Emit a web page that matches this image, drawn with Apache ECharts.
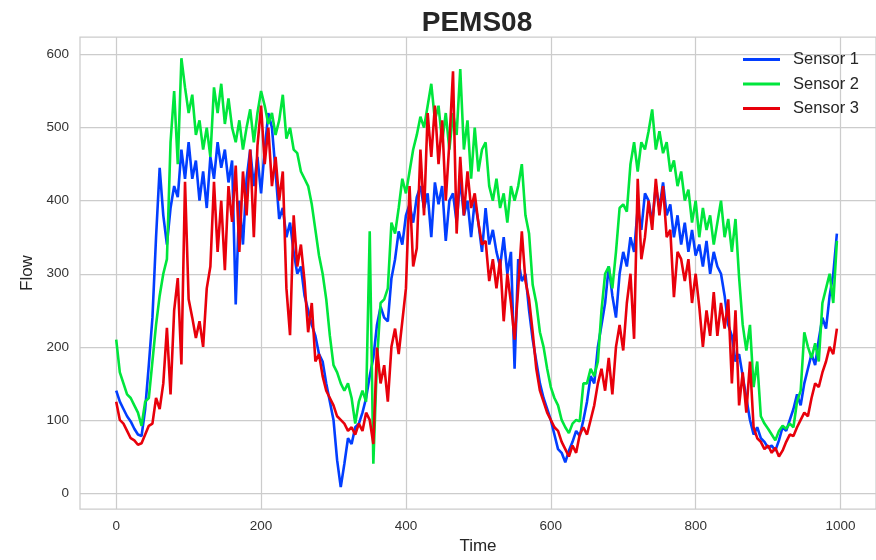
<!DOCTYPE html>
<html>
<head>
    <meta charset="utf-8">
    <title>PEMS08</title>
    <script src="https://cdn.jsdelivr.net/npm/echarts@6/dist/echarts.min.js"></script>
</head>
<body style="margin:0;background:#fff;">
<div id="main" style="width: 876px;height:560px;"></div>
<script type="text/javascript">
    // one reading every 5 time steps
    var timeStep = 5;
    var seriesNames = ['Sensor 1', 'Sensor 2', 'Sensor 3'];
    var xTicks = [0, 200, 400, 600, 800, 1000];
    var yTicks = [0, 100, 200, 300, 400, 500, 600];

    var sensor1 = [
        140,125,115,105,98,88,80,78,115,175,
        240,350,445,380,340,390,420,405,470,430,
        480,430,455,400,440,390,460,430,480,445,
        470,425,455,258,400,340,430,470,420,460,
        410,470,520,500,440,375,390,350,370,330,
        300,310,270,250,230,215,190,180,150,125,
        100,45,8,40,75,67,90,95,110,130,
        160,185,230,255,240,235,294,320,358,340,
        380,395,370,405,420,390,410,350,425,395,
        420,345,400,410,370,430,380,400,350,400,
        370,330,390,340,360,330,310,350,300,330,
        170,320,290,300,250,210,180,150,130,115,
        100,80,60,55,42,58,70,85,78,100,
        125,160,150,200,230,260,310,270,240,300,
        330,310,350,330,390,360,410,400,370,420,
        390,425,380,395,350,380,340,370,330,360,
        325,340,310,345,300,330,310,300,270,230,
        215,180,190,160,130,100,80,90,75,70,
        62,65,58,72,90,85,100,115,135,120,
        150,170,190,175,210,240,225,270,300,355
    ];
    var sensor2 = [
        210,165,150,135,130,120,110,92,125,130,
        180,230,270,300,320,480,550,450,595,555,
        520,545,490,510,470,500,460,555,520,560,
        505,540,500,480,510,470,500,525,480,520,
        550,530,505,520,490,510,545,485,500,470,
        465,440,430,420,395,360,325,300,265,215,
        175,165,150,140,150,130,95,125,140,125,
        358,40,180,260,265,280,370,355,390,430,
        410,440,470,490,515,500,530,560,510,530,
        480,520,470,520,490,580,470,510,430,500,
        440,470,480,420,400,430,390,410,370,420,
        400,420,450,380,355,285,260,220,200,170,
        145,130,120,100,90,82,95,100,98,150,
        150,170,160,180,250,300,310,280,330,390,
        395,385,450,480,440,480,470,495,525,470,
        495,465,480,440,455,420,440,400,415,370,
        400,350,390,360,380,340,370,400,350,375,
        330,375,295,230,195,230,145,180,105,95,
        88,80,72,85,92,88,95,90,125,140,
        220,200,185,205,180,260,280,300,260,345
    ];
    var sensor3 = [
        125,100,95,85,75,72,66,68,80,92,
        95,130,115,150,226,135,250,294,176,426,
        265,240,212,235,200,280,310,426,330,400,
        305,420,371,448,330,440,380,470,350,475,
        530,450,500,420,460,400,440,280,216,380,
        310,340,290,220,260,180,190,160,140,130,
        120,105,100,95,85,90,80,95,85,110,
        100,67,199,150,175,125,200,225,190,235,
        280,420,310,335,470,380,520,460,530,450,
        510,400,480,577,355,460,380,440,390,410,
        370,340,345,290,320,280,320,235,300,260,
        210,280,358,290,265,220,170,140,125,110,
        100,90,85,70,60,50,65,55,80,90,
        80,100,120,150,170,140,185,135,200,230,
        195,260,300,211,430,320,350,400,360,430,
        380,420,350,360,268,330,320,290,320,260,
        300,255,200,250,215,275,215,260,225,265,
        150,250,120,165,110,180,90,75,70,60,
        65,55,62,50,58,70,80,78,90,100,
        110,105,130,150,145,165,180,200,190,225
    ];
    var colors = ['#023eff', '#00e63c', '#e8000b'];

    function toPairs(vals) {
        return vals.map(function (v, i) { return [i * timeStep, v]; });
    }

    var myChart = echarts.init(document.getElementById('main'));
    var font = 'Liberation Sans, Arial, sans-serif';

    var option = {
        animation: false,
        backgroundColor: '#ffffff',
        color: colors,
        textStyle: { fontFamily: font },
        title: {
            text: 'PEMS08',
            left: 472,
            top: 4,
            textAlign: 'center',
            textStyle: { fontSize: 28, fontWeight: 'bold', color: '#262626', fontFamily: font }
        },
        legend: {
            orient: 'vertical',
            left: 743,
            top: 51,
            padding: 0,
            itemWidth: 37,
            itemHeight: 3,
            itemGap: 7.5,
            icon: 'rect',
            textStyle: { fontSize: 16.5, color: '#262626', padding: [0, 0, 0, 8], fontFamily: font },
            data: seriesNames
        },
        grid: {
            left: 80, right: 0, top: 37, bottom: 47,
            show: true, borderColor: '#cccccc', borderWidth: 1.25
        },
        xAxis: {
            type: 'value',
            min: -50,
            max: 1049,
            name: 'Time',
            nameLocation: 'middle',
            nameGap: 27,
            nameTextStyle: { fontSize: 17, color: '#262626', fontFamily: font },
            axisLine: { show: false },
            axisTick: { show: false, customValues: xTicks },
            axisLabel: {
                customValues: xTicks, fontSize: 13.5, color: '#333333', margin: 10, fontFamily: font,
                formatter: function (v) { return String(v); }
            },
            splitLine: { show: true, lineStyle: { color: '#cccccc', width: 1.25 } }
        },
        yAxis: {
            type: 'value',
            min: -22,
            max: 624,
            name: 'Flow',
            nameLocation: 'middle',
            nameGap: 41,
            nameTextStyle: { fontSize: 17, color: '#262626', fontFamily: font },
            axisLine: { show: false },
            axisTick: { show: false, customValues: yTicks },
            axisLabel: {
                customValues: yTicks, fontSize: 13.5, color: '#333333', margin: 11, fontFamily: font,
                formatter: function (v) { return String(v); }
            },
            splitLine: { show: true, lineStyle: { color: '#cccccc', width: 1.25 } }
        },
        series: [
            { name: seriesNames[0], type: 'line', data: toPairs(sensor1), showSymbol: false, lineStyle: { width: 2.6 } },
            { name: seriesNames[1], type: 'line', data: toPairs(sensor2), showSymbol: false, lineStyle: { width: 2.6 } },
            { name: seriesNames[2], type: 'line', data: toPairs(sensor3), showSymbol: false, lineStyle: { width: 2.6 } }
        ]
    };

    myChart.setOption(option);
</script>
</body>
</html>
